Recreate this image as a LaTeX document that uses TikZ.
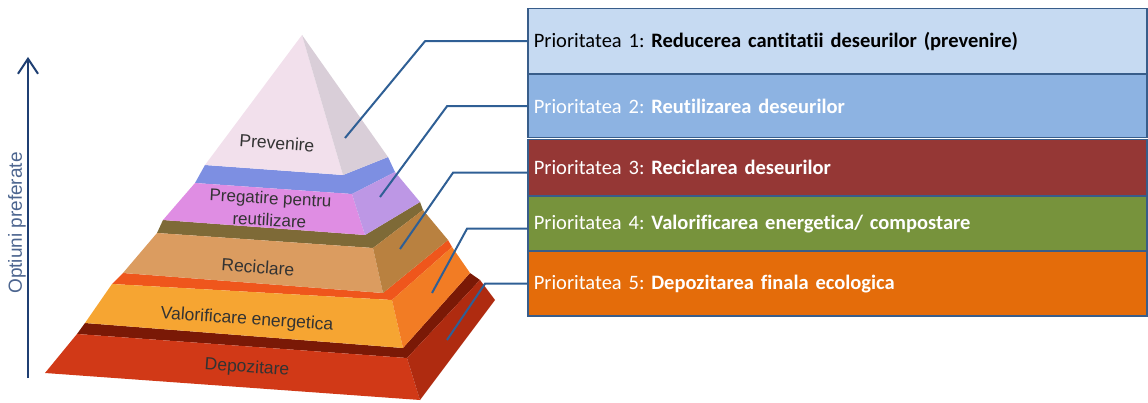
\documentclass[tikz,border=0pt]{standalone}
\usepackage{fontspec}
\setmainfont{Carlito}[Ligatures=NoCommon]
\newfontfamily\pyrfont{Liberation Sans}
\usepackage{tikz}
\usetikzlibrary{arrows.meta}

\definecolor{topfront}{HTML}{F2E0EC}
\definecolor{topright}{HTML}{D9CED8}
\definecolor{reustop}{HTML}{7D8FE2}
\definecolor{reusfront}{HTML}{DF8DE3}
\definecolor{reusright}{HTML}{BD97E5}
\definecolor{recytop}{HTML}{7E6A37}
\definecolor{recyfront}{HTML}{DB9C60}
\definecolor{recyright}{HTML}{B98140}
\definecolor{valtop}{HTML}{EF561C}
\definecolor{valfront}{HTML}{F6A532}
\definecolor{valright}{HTML}{F27C24}
\definecolor{deptop}{HTML}{7A1906}
\definecolor{depfront}{HTML}{D13917}
\definecolor{depright}{HTML}{AF2B10}
\definecolor{boxone}{HTML}{C6DAF2}
\definecolor{boxtwo}{HTML}{8DB3E2}
\definecolor{boxthree}{HTML}{953735}
\definecolor{boxfour}{HTML}{77933C}
\definecolor{boxfive}{HTML}{E46C0A}
\definecolor{boxedge}{HTML}{385D8A}
\definecolor{linkblue}{HTML}{2F5F95}
\definecolor{axisblue}{HTML}{1F3F73}

\begin{document}
\frenchspacing
\begin{tikzpicture}[x=1pt, y=-1pt,
  lvl/.style={font=\pyrfont\fontsize{17.5}{20.5}\selectfont, text=black!80, align=center, inner sep=0pt, rotate=-4},
  prio/.style={draw=boxedge, line width=1.5pt, anchor=north west, minimum height=#1, text width=607pt, inner xsep=6pt, align=left, font=\fontsize{20.5}{24}\selectfont},
  link/.style={draw=linkblue, line width=2pt}]
  \useasboundingbox (0,0) rectangle (1148,403);

  \draw[axisblue, line width=2pt, -{Straight Barb[length=15pt, width=20pt]}] (28,378) -- (28,57);
  \node (axis) [rotate=90, font=\pyrfont\fontsize{19}{20}\selectfont, text=axisblue!80] at (17,223) {Optiuni preferate};

  \fill[deptop] (77,334) -- (407,358) -- (480,280) -- (470,273) -- (403,348) -- (85,323) -- cycle;
  \fill[depfront] (77,334) -- (407,358) -- (420,400) -- (45,373) -- cycle;
  \fill[depright] (407,358) -- (480,280) -- (495,300) -- (420,400) -- cycle;

  \fill[valtop] (112,284) -- (392,300) -- (452,247) -- (448,240) -- (383,293) -- (123,273) -- cycle;
  \fill[valfront] (112,284) -- (392,300) -- (403,348) -- (85,323) -- cycle;
  \fill[valright] (392,300) -- (452,247) -- (470,273) -- (403,348) -- cycle;

  \fill[recytop] (157,233) -- (373,248) -- (423,210) -- (420,202) -- (365,235) -- (163,220) -- cycle;
  \fill[recyfront] (157,233) -- (373,248) -- (383,293) -- (123,273) -- cycle;
  \fill[recyright] (373,248) -- (423,210) -- (448,240) -- (383,293) -- cycle;

  \fill[reustop] (195,183) -- (352,194) -- (395,172) -- (388,157) -- (343,175) -- (205,165) -- cycle;
  \fill[reusfront] (195,183) -- (352,194) -- (365,235) -- (163,220) -- cycle;
  \fill[reusright] (352,194) -- (395,172) -- (420,202) -- (365,235) -- cycle;

  \fill[topfront] (302,35) -- (205,165) -- (343,175) -- cycle;
  \fill[topright] (302,35) -- (343,175) -- (388,157) -- cycle;

  \node (l1) [lvl] at (277,143) {Prevenire};
  \node (l2) [lvl, font=\pyrfont\fontsize{17}{22}\selectfont, rotate=1] at (270,209) {Pregatire pentru\\reutilizare};
  \node (l3) [lvl] at (258,267) {Reciclare};
  \node (l4) [lvl] at (247,320) {Valorificare energetica};
  \node (l5) [lvl] at (247,368) {Depozitare};

  \node (p1) [prio=65pt, fill=boxone, text=black] at (527,8) {Prioritatea 1: \textbf{Reducerea cantitatii deseurilor (prevenire)}};
  \node (p2) [prio=63pt, fill=boxtwo, text=white] at (527,74) {Prioritatea 2: \textbf{Reutilizarea deseurilor}};
  \node (p3) [prio=56pt, fill=boxthree, text=white] at (527,139) {Prioritatea 3: \textbf{Reciclarea deseurilor}};
  \node (p4) [prio=54pt, fill=boxfour, text=white] at (527,196) {Prioritatea 4: \textbf{Valorificarea energetica/ compostare}};
  \node (p5) [prio=64pt, fill=boxfive, text=white] at (527,251) {Prioritatea 5: \textbf{Depozitarea finala ecologica}};

  \coordinate (e1) at (345,138);
  \coordinate (e2) at (380,197);
  \coordinate (e3) at (400,249);
  \coordinate (e4) at (432,293);
  \coordinate (e5) at (447,340);
  \draw[link] (e1) -- ([xshift=-102pt]p1.west) -- (p1.west);
  \draw[link] (e2) -- ([xshift=-80pt]p2.west) -- (p2.west);
  \draw[link] (e3) -- ([shift={(-74pt,-5pt)}]p3.west) -- ([yshift=-5pt]p3.west);
  \draw[link] (e4) -- ([shift={(-60pt,-5pt)}]p4.west) -- ([yshift=-5pt]p4.west);
  \draw[link] (e5) -- ([xshift=-42pt]p5.west) -- (p5.west);
\end{tikzpicture}
\end{document}
